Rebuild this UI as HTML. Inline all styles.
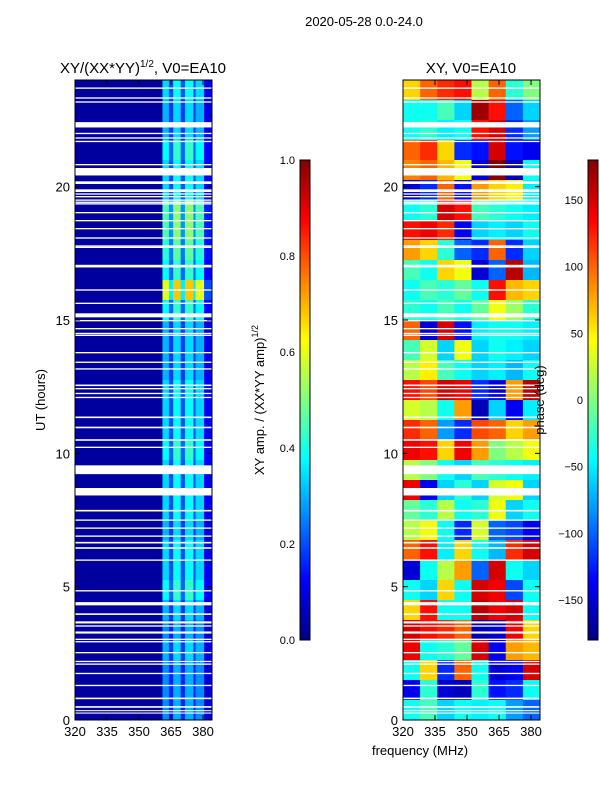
<!DOCTYPE html>
<html><head><meta charset="utf-8"><style>
body{margin:0;background:#fff;width:600px;height:800px;overflow:hidden}
svg text{font-family:"Liberation Sans",sans-serif;fill:#000}
</style></head><body>
<svg id="fig" width="600" height="800" xmlns="http://www.w3.org/2000/svg">
<defs>
<linearGradient id="jetg" x1="0" y1="1" x2="0" y2="0"></linearGradient>
</defs>
<text x="364" y="26" font-size="13" text-anchor="middle">2020-05-28 0.0-24.0</text>
<text x="143" y="73" font-size="15" text-anchor="middle">XY/(XX*YY)<tspan font-size="10" dy="-6">1/2</tspan><tspan dy="6">, V0=EA10</tspan></text>
<text x="471" y="73" font-size="15" text-anchor="middle">XY, V0=EA10</text>
<g id="ampPlot"></g>
<g id="phPlot"></g>
<g id="axes"></g>
<text transform="translate(45,400) rotate(-90)" font-size="13" text-anchor="middle">UT (hours)</text>
<text x="420" y="755" font-size="13" text-anchor="middle">frequency (MHz)</text>
<text transform="translate(264,400) rotate(-90)" font-size="13" text-anchor="middle">XY amp. / (XX*YY amp)<tspan font-size="9" dy="-6">1/2</tspan></text>
<text transform="translate(544,400) rotate(-90)" font-size="13" text-anchor="middle">phase (deg)</text>
<rect x="300" y="160" width="10" height="480" fill="url(#jetg)" stroke="#000" stroke-width="1"/>
<rect x="588" y="160" width="10" height="480" fill="url(#jetg)" stroke="#000" stroke-width="1"/>
</svg>
<script>
// ---- data ----
const freqEdges=[320,361,364,366,369.5,371.5,375.5,376.5,380.5,384.2];
const bandWeight=[0,0.75,0.45,0.85,0.45,0.85,0.45,0.75,0.25];
const ampRows=[0.45,0.4,0.4,0.5,0.45,0.45,0.6,0.6,0.55,0.5,0.8,0.5,0.4,0.4,0.4,0.45,0.45,0.45,0.5,0.45,0.45,0.45,0.4,0.45,0.45,0.5,0.4,0.35,0.4,0.35,0.35,0.35];
const phaseRows=[
[60,100,120,130,20,100,-30,0],[-40,-40,-20,-60,170,130,-100,-60],[-40,-30,-50,-40,130,150,-120,-80],[100,120,60,-120,-130,150,-130,-140],
[90,100,70,40,-150,180,-160,-40],[-150,-120,100,-130,80,60,50,-50],[-40,-30,150,130,-20,-30,-40,-50],[130,140,120,-140,-60,-50,-60,-40],
[80,60,-30,-100,-120,100,-120,-60],[-20,-40,60,40,-150,-100,160,-70],[-40,-20,-30,-10,-40,130,70,60],[-30,-40,-20,-40,-10,40,10,-30],
[100,-150,150,-130,-50,-40,-40,-50],[-20,30,-60,40,-60,-40,-50,-60],[20,50,-20,-40,-60,-50,-70,-40],[130,110,150,140,-120,-150,80,160],
[30,20,-40,80,-160,-60,-140,-50],[120,100,-80,-120,110,100,60,80],[140,130,60,140,80,0,20,40],[20,0,-40,-60,-20,-30,-40,-50],
[140,-140,-60,-30,-60,30,40,-60],[-10,-30,20,-40,-30,40,-60,-40],[20,40,-40,-120,30,-100,-110,-140],[100,130,-50,60,-40,-70,120,150],
[-150,-40,20,80,-100,150,-40,-60],[-40,-60,60,-40,150,140,-110,-40],[60,130,-40,-40,160,140,150,-40],[150,130,120,100,-160,-150,140,60],
[140,-40,-30,-10,150,-140,80,70],[-40,60,-120,100,-40,-150,-140,150],[-140,-30,-150,-160,-30,-130,-120,-40],[-40,-20,-60,-40,-50,-40,-80,-100]];
const gapStart=[23.67,23.3,23.15,22.22,21.97,21.8,21.67,20.8,20.42,20.1,19.8,19.7,19.6,19.47,19.39,19.33,19.0,18.7,18.4,18.05,17.75,17.7,16.97,16.1,15.6,15.1,14.95,14.65,14.47,14.4,13.75,13.39,13.14,12.52,12.4,12.22,12.07,11.32,10.94,10.47,10.2,9.22,8.42,7.82,7.47,7.17,6.87,6.62,6.42,5.97,4.82,4.3,3.94,3.62,3.5,3.24,3.0,2.91,2.5,2.17,2.07,1.72,1.27,0.78,0.46,0.33,0.24];
const gapEnd=[23.72,23.35,23.2,22.42,22.02,21.85,21.72,20.85,20.7,20.2,19.9,19.75,19.65,19.52,19.44,19.38,19.05,18.75,18.45,18.1,17.8,17.75,17.07,16.15,15.65,15.25,15.0,14.7,14.52,14.45,13.8,13.44,13.19,12.58,12.45,12.27,12.12,11.38,11.0,10.53,10.25,9.55,8.7,7.88,7.52,7.22,6.92,6.68,6.48,6.02,4.87,4.42,4.0,3.7,3.55,3.32,3.05,2.96,2.55,2.22,2.12,1.77,1.32,0.84,0.52,0.37,0.28];
const yTicks=[0,5,10,15,20];
const xTicks=[320,335,350,365,380];
const ampCbTicks=[0,0.2,0.4,0.6,0.8,1.0];
const phCbTicks=[-150,-100,-50,0,50,100,150];
// ---- scales ----
const NS="http://www.w3.org/2000/svg";
const F0=320,F1=384.2,PT=80,PB=720,BG=0.03;
function xs(f,left){return left+(f-F0)/(F1-F0)*137;}
function ys(h){return PB-h/24*(PB-PT);}
function jet(v){v=Math.max(0,Math.min(1,v));
 const r=Math.max(0,Math.min(1,1.5-Math.abs(4*v-3))),g=Math.max(0,Math.min(1,1.5-Math.abs(4*v-2))),b=Math.max(0,Math.min(1,1.5-Math.abs(4*v-1)));
 return `rgb(${Math.round(r*255)},${Math.round(g*255)},${Math.round(b*255)})`;}
function mk(tag,attrs,parent){const e=document.createElementNS(NS,tag);for(const k in attrs)e.setAttribute(k,attrs[k]);parent.appendChild(e);return e;}
const grad=document.getElementById('jetg');
for(let k=0;k<=16;k++){mk('stop',{offset:k/16,'stop-color':jet(k/16)},grad);}
const amp=document.getElementById('ampPlot'),ph=document.getElementById('phPlot'),ax=document.getElementById('axes');
const nR=ampRows.length,rowH=24/nR;
for(let i=0;i<nR;i++){
 const h1=24-i*rowH,h0=h1-rowH;
 for(let j=0;j<bandWeight.length;j++){
  const v=Math.max(BG,ampRows[i]*bandWeight[j]);
  const x0=xs(freqEdges[j],75),x1=xs(freqEdges[j+1],75);
  const r=mk('rect',{x:x0,y:ys(h1),width:x1-x0+0.3,height:ys(h0)-ys(h1)+0.3,fill:jet(v)},amp);
  
  
 }
 const row=phaseRows[i],nc=row.length;
 for(let j=0;j<nc;j++){
  const f0=F0+j*(F1-F0)/nc,f1=F0+(j+1)*(F1-F0)/nc;
  const x0=xs(f0,403),x1=xs(f1,403);
  const r=mk('rect',{x:x0,y:ys(h1),width:x1-x0+0.3,height:ys(h0)-ys(h1)+0.3,fill:jet((row[j]+180)/360)},ph);
  
  
 }
}
for(let k=0;k<gapStart.length;k++){
 for(const L of [75,403]){
  const r=mk('rect',{x:L,y:ys(gapEnd[k]),width:137,height:ys(gapStart[k])-ys(gapEnd[k]),fill:'#fff'},L==75?amp:ph);
  
  
 }
}
for(const L of [75,403]){
 const fr=mk('rect',{x:L,y:PT,width:137,height:PB-PT,fill:'none',stroke:'#000','stroke-width':1},ax);
 
 
 for(const t of yTicks){
  const y=ys(t);
  mk('line',{x1:L,x2:L+5,y1:y,y2:y,stroke:'#000'},ax);
  mk('line',{x1:L+137,x2:L+132,y1:y,y2:y,stroke:'#000'},ax);
  const tx=mk('text',{x:L-5,y:y+5,'font-size':13,'text-anchor':'end'},ax);tx.textContent=t;
  
  
 }
 for(const t of xTicks){
  const x=xs(t,L);
  mk('line',{x1:x,x2:x,y1:PB,y2:PB-5,stroke:'#000'},ax);
  mk('line',{x1:x,x2:x,y1:PT,y2:PT+5,stroke:'#000'},ax);
  const tx=mk('text',{x:x,y:PB+16,'font-size':13,'text-anchor':'middle'},ax);tx.textContent=t;
  
  
 }
}
for(const t of ampCbTicks){
 const y=640-t*480;
 mk('line',{x1:300,x2:304,y1:y,y2:y,stroke:'#000'},ax);
 const tx=mk('text',{x:295,y:y+4,'font-size':11,'text-anchor':'end'},ax);tx.textContent=t.toFixed(1);
 
 
}
for(const t of phCbTicks){
 const y=400-t/180*240;
 mk('line',{x1:588,x2:592,y1:y,y2:y,stroke:'#000'},ax);
 const tx=mk('text',{x:583,y:y+4,'font-size':11,'text-anchor':'end'},ax);tx.textContent=(t<0?'\u2212'+(-t):t);
 
 
}
</script>
</body></html>
